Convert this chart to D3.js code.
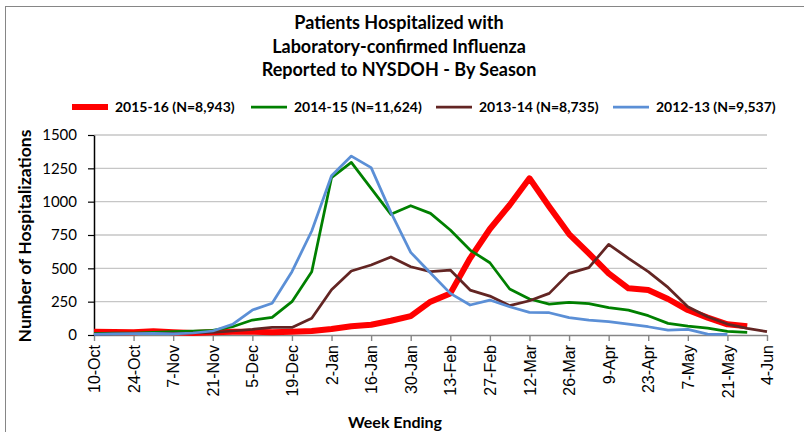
<!DOCTYPE html>
<html>
<head>
<meta charset="utf-8">
<script src="https://cdn.jsdelivr.net/npm/d3@7"></script>
<style>
  body { margin: 0; background: #fff; }
  svg { display: block; }
</style>
</head>
<body>
<svg id="chart" width="804" height="432"></svg>
<script>
const weeks = ['10-Oct', '17-Oct', '24-Oct', '31-Oct', '7-Nov', '14-Nov', '21-Nov', '28-Nov',
  '5-Dec', '12-Dec', '19-Dec', '26-Dec', '2-Jan', '9-Jan', '16-Jan', '23-Jan', '30-Jan',
  '6-Feb', '13-Feb', '20-Feb', '27-Feb', '5-Mar', '12-Mar', '19-Mar', '26-Mar', '2-Apr',
  '9-Apr', '16-Apr', '23-Apr', '30-Apr', '7-May', '14-May', '21-May', '28-May', '4-Jun']
const yTicks = [0, 250, 500, 750, 1000, 1250, 1500]

const titleLines = ['Patients Hospitalized with', 'Laboratory-confirmed Influenza', 'Reported to NYSDOH - By Season']
const seasonNames = ['2015-16 (N=8,943)', '2014-15 (N=11,624)', '2013-14 (N=8,735)', '2012-13 (N=9,537)']

const s2015 = [25, 22, 20, 28, 20, 15, 20, 25, 25, 20, 25, 30, 45, 65, 77, 107, 142, 250, 312,
  575, 795, 975, 1175, 962, 757, 612, 462, 350, 337, 270, 187, 130, 80, 65]
const s2014 = [10, 15, 15, 20, 25, 30, 35, 62, 112, 132, 250, 475, 1180, 1295, 1100, 905, 970,
  912, 787, 637, 542, 345, 270, 232, 245, 235, 205, 187, 145, 87, 67, 52, 27, 20]
const s2013 = [5, 8, 10, 10, 12, 15, 20, 30, 42, 58, 57, 125, 340, 480, 525, 585, 512, 475,
  487, 337, 292, 220, 257, 312, 462, 505, 680, 575, 475, 357, 212, 137, 82, 50, 25]
const s2012 = [5, 8, 10, 12, 8, 15, 30, 80, 187, 238, 475, 780, 1195, 1342, 1255, 920, 620,
  465, 312, 225, 262, 212, 170, 167, 130, 112, 100, 82, 62, 37, 42, 7, 5]

const series = [
  {name: seasonNames[0], values: s2015, color: '#ff0000', width: 6},
  {name: seasonNames[1], values: s2014, color: '#008000', width: 2.75},
  {name: seasonNames[2], values: s2013, color: '#632523', width: 2.75},
  {name: seasonNames[3], values: s2012, color: '#5b8fd6', width: 2.75}
]

const calibri = 'Lato, Carlito, Calibri, sans-serif'
const svg = d3.select('#chart')

// chart frame, runs off the right and bottom edges
svg.append('rect').attr('x', 5.5).attr('y', 6.5).attr('width', 820).attr('height', 440)
  .attr('fill', 'none').attr('stroke', '#868686')

const x = d3.scalePoint().domain(weeks).range([94, 767])
const y = d3.scaleLinear().domain([0, 1500]).range([335, 135])

svg.append('g').selectAll('text').data(titleLines).enter().append('text')
  .attr('x', 399).attr('y', (d, i) => 29 + i * 23.5)
  .attr('text-anchor', 'middle')
  .style('font-family', calibri).style('font-weight', 'bold').style('font-size', '18px')
  .text(d => d)

// legend
const legendX = [72, 251, 436, 613]
const legend = svg.append('g').selectAll('g').data(series).enter().append('g')
  .attr('transform', (d, i) => `translate(${legendX[i]}, 107)`)
legend.append('line').attr('x1', 0).attr('x2', 36).attr('y1', 0).attr('y2', 0)
  .attr('stroke', d => d.color).attr('stroke-width', d => d.width)
legend.append('text').attr('x', 43).attr('y', 0).attr('dy', '0.35em')
  .style('font-family', calibri).style('font-weight', 'bold').style('font-size', '14px')
  .text(d => d.name)

// gridlines
svg.append('g').selectAll('line').data(yTicks.slice(1)).enter().append('line')
  .attr('x1', 94).attr('x2', 767).attr('y1', d => y(d)).attr('y2', d => y(d))
  .attr('stroke', '#c6c6c6').attr('stroke-width', 1.4)

const xAxis = svg.append('g').attr('transform', 'translate(0, 335)')
  .call(d3.axisBottom(x).tickValues(weeks.filter((d, i) => i % 2 === 0)).tickSize(6).tickSizeOuter(0))
xAxis.select('.domain').attr('stroke', '#868686').attr('stroke-width', 1.4)
xAxis.selectAll('.tick line').attr('stroke', '#868686').attr('stroke-width', 1.4)
xAxis.selectAll('text')
  .attr('transform', 'rotate(-90)')
  .attr('x', -10).attr('y', 0).attr('dy', '0.35em')
  .style('text-anchor', 'end')
  .style('font-family', '"Liberation Sans", Arial, sans-serif').style('font-size', '16px')
  .attr('fill', '#000')

const yAxis = svg.append('g').attr('transform', 'translate(94, 0)')
  .call(d3.axisLeft(y).tickValues(yTicks).tickFormat(d3.format('d')).tickSize(6).tickSizeOuter(0).tickPadding(11))
yAxis.select('.domain').attr('stroke', '#000').attr('stroke-width', 1.5)
yAxis.selectAll('.tick line').attr('stroke', '#000').attr('stroke-width', 1.2)
yAxis.selectAll('text')
  .style('font-family', calibri).style('font-size', '15px').attr('fill', '#000')

const line = d3.line().x((d, i) => x(weeks[i])).y(d => y(d))

svg.append('g').selectAll('path').data(series).enter().append('path')
  .attr('d', d => line(d.values))
  .attr('fill', 'none')
  .attr('stroke', d => d.color)
  .attr('stroke-width', d => d.width)
  .attr('stroke-linejoin', 'round')

svg.append('text')
  .attr('transform', 'translate(31, 236) rotate(-90)')
  .attr('text-anchor', 'middle')
  .style('font-family', calibri).style('font-weight', 'bold').style('font-size', '17.5px')
  .text('Number of Hospitalizations')

svg.append('text')
  .attr('x', 395).attr('y', 428)
  .attr('text-anchor', 'middle')
  .style('font-family', calibri).style('font-weight', 'bold').style('font-size', '16px')
  .text('Week Ending')
</script>
</body>
</html>
